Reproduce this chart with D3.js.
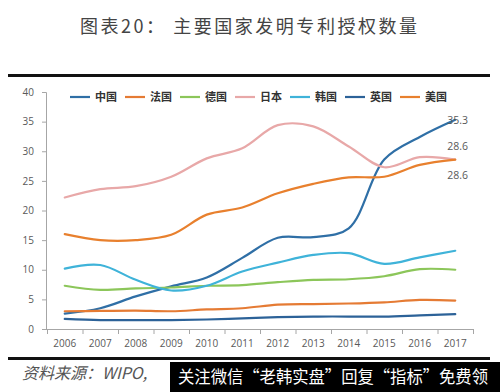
<!DOCTYPE html>
<html><head><meta charset="utf-8">
<script src="https://cdn.jsdelivr.net/npm/d3@7"></script>
<style>
html,body{margin:0;padding:0;background:#fff;}
svg{display:block;}
</style></head>
<body>
<svg id="chart" width="500" height="392"></svg>
<script>
const years = ["2006","2007","2008","2009","2010","2011","2012","2013","2014","2015","2016","2017"];
const yTicks = [0,5,10,15,20,25,30,35,40];
const seriesNames = ["中国","法国","德国","日本","韩国","英国","美国"];
const china   = [2.6,3.5,5.5,7.2,8.7,12.0,15.4,15.5,17.0,28.6,32.4,35.3];
const france  = [3.0,3.05,3.1,3.0,3.3,3.5,4.1,4.2,4.3,4.5,4.9,4.8];
const germany = [7.3,6.6,6.85,7.0,7.3,7.4,7.9,8.3,8.4,8.9,10.1,10.0];
const japan   = [22.2,23.6,24.1,25.7,28.8,30.5,34.4,34.2,30.8,27.3,29.0,28.6];
const korea   = [10.2,10.8,8.3,6.5,7.3,9.7,11.2,12.5,12.8,11.0,12.1,13.2];
const uk      = [1.7,1.5,1.5,1.5,1.6,1.8,2.0,2.1,2.1,2.1,2.3,2.5];
const usa     = [16.0,15.0,15.0,15.9,19.3,20.5,22.9,24.5,25.6,25.7,27.7,28.6];
const endLabels = ["35.3","28.6","28.6"];
const colors = ["#2F6FA6","#E57B34","#8CC65A","#E8A8A8","#3FB3D9","#2C6298","#E8802E"];
const values = [china,france,germany,japan,korea,uk,usa];

const svg = d3.select("#chart");
const font = "'Noto Sans CJK SC','Noto Sans',sans-serif";

// title
svg.append("text").attr("x",80).attr("y",33)
  .attr("textLength",337).attr("lengthAdjust","spacing")
  .style("font-family",font).style("font-size","18px").attr("fill","#444")
  .text("图表20： 主要国家发明专利授权数量");

// frame lines
svg.append("rect").attr("x",8).attr("y",74).attr("width",482).attr("height",3).attr("fill","#111");
svg.append("rect").attr("x",8).attr("y",357).attr("width",482).attr("height",3).attr("fill","#111");

const x = d3.scaleBand().domain(years).range([47,473]).padding(0);
const xc = d => x(d) + x.bandwidth()/2;
const y = d3.scaleLinear().domain([0,40]).range([329,92]);

// y axis
const yAxis = d3.axisLeft(y).tickValues(yTicks).tickSize(4).tickPadding(8);
const gy = svg.append("g").attr("transform","translate(46,0)").call(yAxis);
gy.select(".domain").attr("stroke","#A6A6A6");
gy.selectAll(".tick line").attr("stroke","#A6A6A6");
gy.selectAll(".tick text").attr("fill","#595959").style("font-family","'Open Sans',sans-serif").style("font-size","10px");

// x axis
svg.append("line").attr("x1",46).attr("x2",473).attr("y1",329.5).attr("y2",329.5).attr("stroke","#A6A6A6");
const bounds = years.map(d=>x(d)).concat([x.range()[1]]);
svg.selectAll(".xt").data(bounds).enter().append("line")
  .attr("x1",d=>d+0.5).attr("x2",d=>d+0.5).attr("y1",329).attr("y2",334).attr("stroke","#A6A6A6");
svg.selectAll(".xl").data(years).enter().append("text")
  .attr("x",d=>xc(d)).attr("y",347).attr("text-anchor","middle")
  .attr("fill","#595959").style("font-family","'Open Sans',sans-serif").style("font-size","10px")
  .text(d=>d);

// lines
const line = d3.line().x((d,i)=>xc(years[i])).y(d=>y(d)).curve(d3.curveCatmullRom.alpha(0.5));
values.forEach((v,i)=>{
  svg.append("path").datum(v).attr("d",line).attr("fill","none")
    .attr("stroke",colors[i]).attr("stroke-width",2.2).attr("stroke-linecap","round");
});

// end labels
const lastYear = years[years.length-1];
const labelVals = [china[11], japan[11], usa[11]];
const labelOffsets = [0, -14, 15];
labelVals.forEach((v,i)=>{
  svg.append("text").attr("x",xc(lastYear)-8).attr("y",y(v)+labelOffsets[i]+4)
    .attr("fill","#595959").style("font-family","'Open Sans',sans-serif").style("font-size","10.5px")
    .text(endLabels[i]);
});

// legend
const lg = svg.append("g");
seriesNames.forEach((n,i)=>{
  const lx = 70 + i*55;
  lg.append("line").attr("x1",lx).attr("x2",lx+20).attr("y1",97).attr("y2",97)
    .attr("stroke",colors[i]).attr("stroke-width",2.2);
  lg.append("text").attr("x",lx+25).attr("y",101)
    .attr("fill","#333").style("font-family",font).style("font-size","11px").style("font-weight","bold")
    .text(n);
});

// footer
svg.append("text").attr("x",22).attr("y",379)
  .attr("fill","#555").style("font-family","'Noto Sans CJK SC','DejaVu Serif',serif").style("font-size","16px").style("font-style","italic")
  .text("资料来源：WIPO,");
svg.append("rect").attr("x",170).attr("y",362).attr("width",330).attr("height",30).attr("fill","#000");
svg.append("text").attr("x",178).attr("y",383).attr("textLength",310).attr("lengthAdjust","spacingAndGlyphs")
  .attr("fill","#fff").style("font-family",font).style("font-size","17px")
  .text("关注微信“老韩实盘”回复“指标”免费领");
</script>
</body></html>
